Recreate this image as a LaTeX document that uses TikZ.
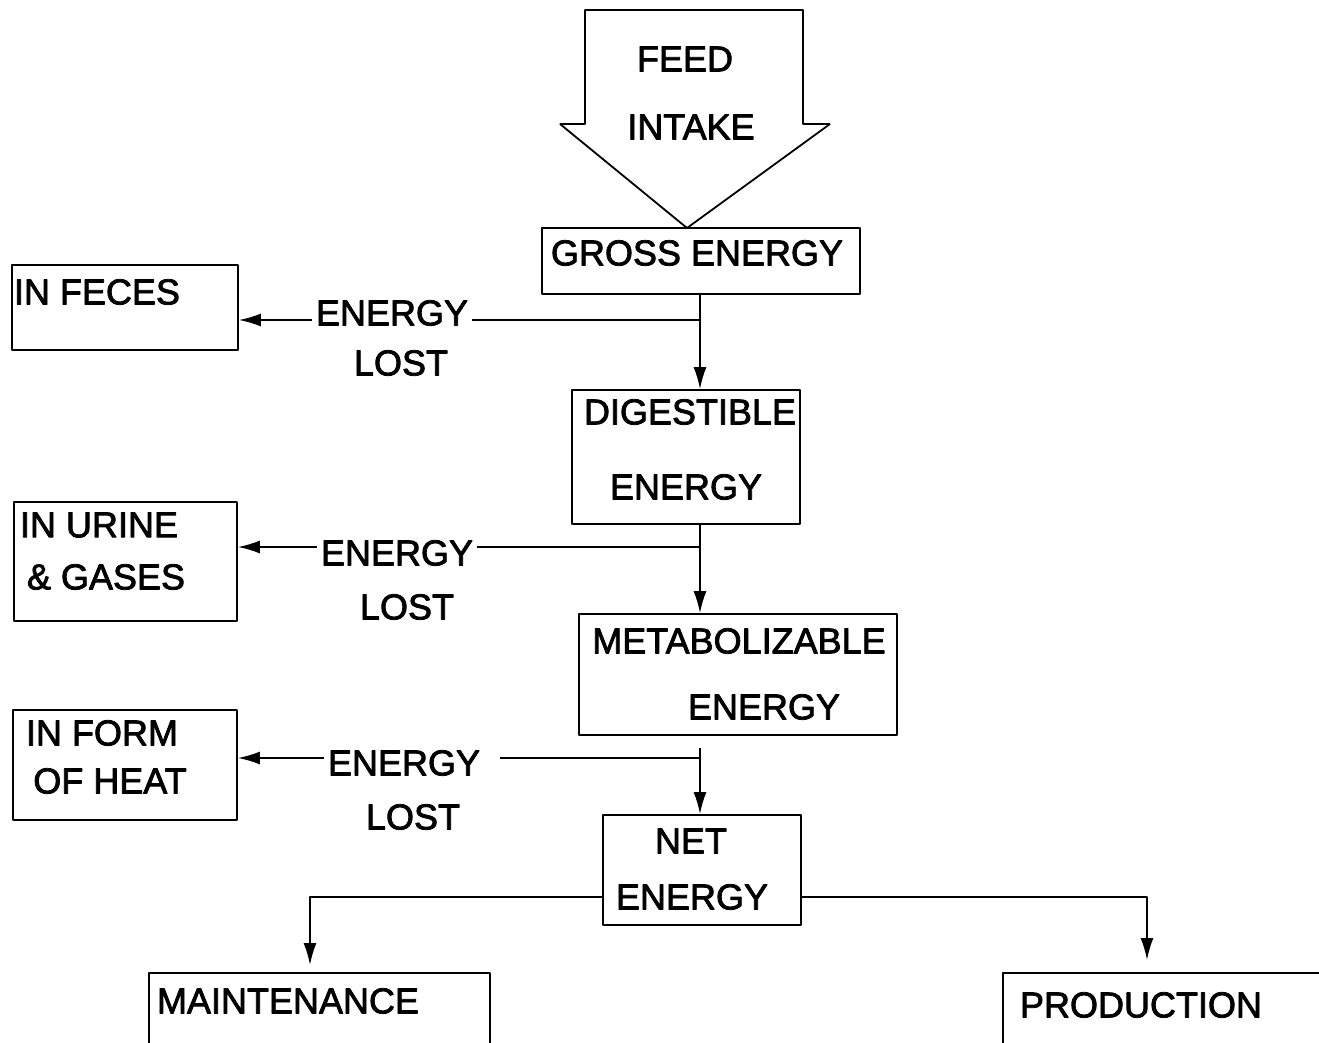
\documentclass[tikz,border=0pt]{standalone}
\usepackage{fontspec}
\setmainfont{Liberation Sans}[FakeBold=2.2]
\usetikzlibrary{arrows.meta}
\begin{document}
\begin{tikzpicture}[>={Latex[length=11pt,width=6.5pt]},line join=bevel,x=0.5pt,y=-0.5pt,
  every node/.style={font=\fontsize{18pt}{21pt}\selectfont},
  box/.style={draw,line width=0.9pt,inner sep=0pt},
  txt/.style={inner sep=0pt},
  lost/.style={inner ysep=0pt,inner xsep=2pt},
  line/.style={black,line width=0.9pt}]
%%
\useasboundingbox (0,0) rectangle (1319,1043);
\clip (0,0) rectangle (1319,1043);
%
\draw [line] (585,10) -- (803,10) -- (803,124) -- (830,124) -- (687,228) -- (560,124) -- (585,124) -- cycle;
\node (node_feed) at (685,59) [txt] {FEED};
  \node (node_intake) at (691,127) [txt] {INTAKE};
%
\node (node_ge) at (701,261) [box,minimum width=159pt,minimum height=33pt] {};
  \node (node_ge_t) at (697,253) [txt] {GROSS ENERGY};
\node (node_de) at (686,457) [box,minimum width=114pt,minimum height=67pt] {};
  \node (node_de_t1) at (690,412) [txt] {DIGESTIBLE};
  \node (node_de_t2) at (686,487) [txt] {ENERGY};
\node (node_me) at (738,674.5) [box,minimum width=159pt,minimum height=60.5pt] {};
  \node (node_me_t1) at (739,641) [txt] {METABOLIZABLE};
  \node (node_me_t2) at (764,707) [txt] {ENERGY};
\node (node_ne) at (702,870) [box,minimum width=99pt,minimum height=55pt] {};
  \node (node_ne_t1) at (691,841) [txt] {NET};
  \node (node_ne_t2) at (692,897) [txt] {ENERGY};
%
\node (node_feces) at (125,307.5) [box,minimum width=113pt,minimum height=42.5pt] {};
  \node (node_feces_t) at (97,292) [txt] {IN FECES};
\node (node_urine) at (125.5,561.5) [box,minimum width=111.5pt,minimum height=59.5pt] {};
  \node (node_urine_t1) at (99,525) [txt] {IN URINE};
  \node (node_urine_t2) at (106,577) [txt] {\& GASES};
\node (node_heat) at (125,765) [box,minimum width=112pt,minimum height=55pt] {};
  \node (node_heat_t1) at (102,733) [txt] {IN FORM};
  \node (node_heat_t2) at (110,781) [txt] {OF HEAT};
\node (node_maint) at (319.5,1036.5) [box,minimum width=170.5pt,minimum height=63.5pt] {};
  \node (node_maint_t) at (288,1001) [txt] {MAINTENANCE};
\node (node_prod) at (1201.5,1036.5) [box,minimum width=198.5pt,minimum height=63.5pt] {};
  \node (node_prod_t) at (1141,1005) [txt] {PRODUCTION};
%
\node (node_en1) at (392,313) [lost] {ENERGY};
  \node (node_lost1) at (401,363) [txt] {LOST};
\node (node_en2) at (397,553) [lost] {ENERGY};
  \node (node_lost2) at (407,607) [txt] {LOST};
\node (node_en3) at (404,763) [lost] {ENERGY};
  \node (node_lost3) at (413,817) [txt] {LOST};
%
\coordinate (j1) at (700,320);
\coordinate (j2) at (700,547);
\coordinate (j3) at (700,758);
\coordinate (tip_m) at (310,965);
\coordinate (tip_p) at (1147,960);
%
\draw [line,->] (j1 |- node_ge.south) -- (j1 |- node_de.north);
\draw [line,->] (j2 |- node_de.south) -- (j2 |- node_me.north);
\draw [line,->,shorten <=6pt] (j3 |- node_me.south) -- (j3 |- node_ne.north);
%
\draw [line] (j1) -- (node_en1.east |- j1);
  \draw [line,->] (node_en1.west |- j1) -- (node_feces.east |- j1);
\draw [line] (j2) -- (node_en2.east |- j2);
  \draw [line,->] (node_en2.west |- j2) -- (node_urine.east |- j2);
\draw [line,shorten >=8pt] (j3) -- (node_en3.east |- j3);
  \draw [line,->] (node_en3.west |- j3) -- (node_heat.east |- j3);
%
\draw [line,->] (node_ne.west |- node_ne_t2) -| (tip_m);
\draw [line,->] (node_ne.east |- node_ne_t2) -| (tip_p);
%
\end{tikzpicture}
\end{document}
